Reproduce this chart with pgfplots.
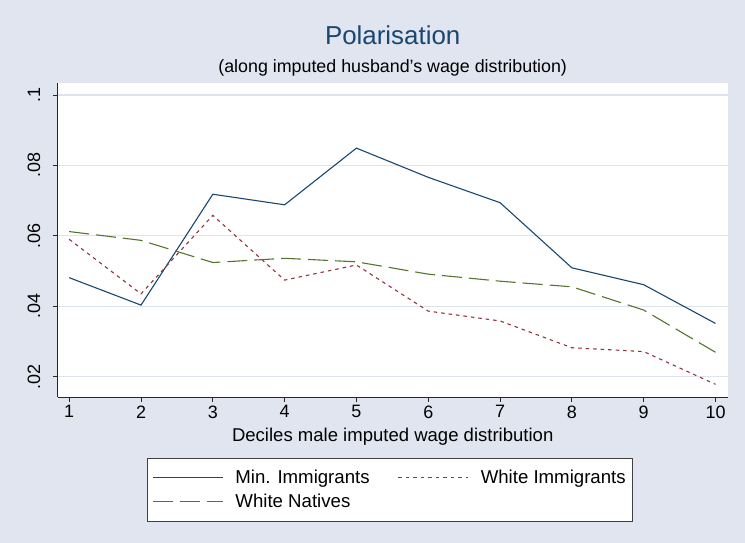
\documentclass[border=0pt]{standalone}
\usepackage{pgfplots}
\pgfplotsset{compat=1.18}
\usepackage{fontspec}
\setmainfont{Liberation Sans}
\definecolor{bg}{RGB}{224,229,240}
\definecolor{gridc}{RGB}{222,228,238}
\definecolor{snavy}{RGB}{26,71,111}
\definecolor{smaroon}{RGB}{144,53,59}
\definecolor{sgreen}{RGB}{85,117,47}
\newcommand{\fs}{\fontsize{18}{21}\selectfont}
\begin{document}
\begin{tikzpicture}
\fill[bg] (0,0) rectangle (745bp,543bp);
\node[font=\fontsize{26}{30}\selectfont, text=snavy] at (392.7bp,507.3bp) {Polarisation};
\node[font=\fontsize{17.9}{22}\selectfont] at (392.7bp,475bp) {(along imputed husband’s wage distribution)};
\node[font=\fontsize{18.6}{22}\selectfont] at (392.7bp,106bp) {Deciles male imputed wage distribution};
\begin{axis}[
  at={(57.7bp,146bp)}, anchor=south west,
  scale only axis, width=670bp, height=314bp,
  xmin=0.84, xmax=10.17, ymin=0.0142, ymax=0.1034,
  axis background/.style={fill=white},
  axis x line*=bottom, axis y line*=left,
  axis line style={black!85, line width=0.8bp, -},
  xtick={1,2,3,4,5,6,7,8,9,10},
  xticklabels={1,2,3,4,5,6,7,8,9,10},
  ytick={0.02,0.04,0.06,0.08,0.1},
  yticklabels={.02,.04,.06,.08,.1},
  tick align=outside, major tick length=5bp,
  tick style={black!85, line width=0.8bp},
  ymajorgrids, grid style={gridc, line width=1.3bp},
  yticklabel style={rotate=90, anchor=south, font=\fs, yshift=9bp},
  xticklabel style={font=\fs},
  legend style={at={(0.496,-0.194)}, anchor=north, draw=black!75, line width=0.8bp,
    fill=white, font=\fontsize{18.7}{22}\selectfont, inner xsep=5bp, inner ysep=10bp, row sep=5bp,
    /tikz/every odd column/.append style={column sep=10bp},
    /tikz/every even column/.append style={column sep=26bp}},
  legend columns=2,
  legend cell align=left,
  legend image code/.code={\draw[#1] (0bp,0bp) -- (70bp,0bp);},
]
\addplot[snavy, line width=1.1bp] coordinates {
(1,0.0481) (2,0.0403) (3,0.0718) (4,0.0688) (5,0.0849)
(6,0.0766) (7,0.0694) (8,0.0509) (9,0.0461) (10,0.0351)};
\addlegendentry{Min. Immigrants}
\addplot[smaroon, line width=1.1bp, dash pattern=on 3.5bp off 4bp] coordinates {
(1,0.0590) (2,0.0435) (3,0.0658) (4,0.0474) (5,0.0517)
(6,0.0386) (7,0.0358) (8,0.0282) (9,0.0271) (10,0.0178)};
\addlegendentry{White Immigrants}
\addplot[sgreen, line width=1.1bp, dash pattern=on 20bp off 7bp] coordinates {
(1,0.0612) (2,0.0587) (3,0.0524) (4,0.0536) (5,0.0526)
(6,0.0491) (7,0.0471) (8,0.0455) (9,0.0389) (10,0.0269)};
\addlegendentry{White Natives}
\end{axis}
\end{tikzpicture}
\end{document}
